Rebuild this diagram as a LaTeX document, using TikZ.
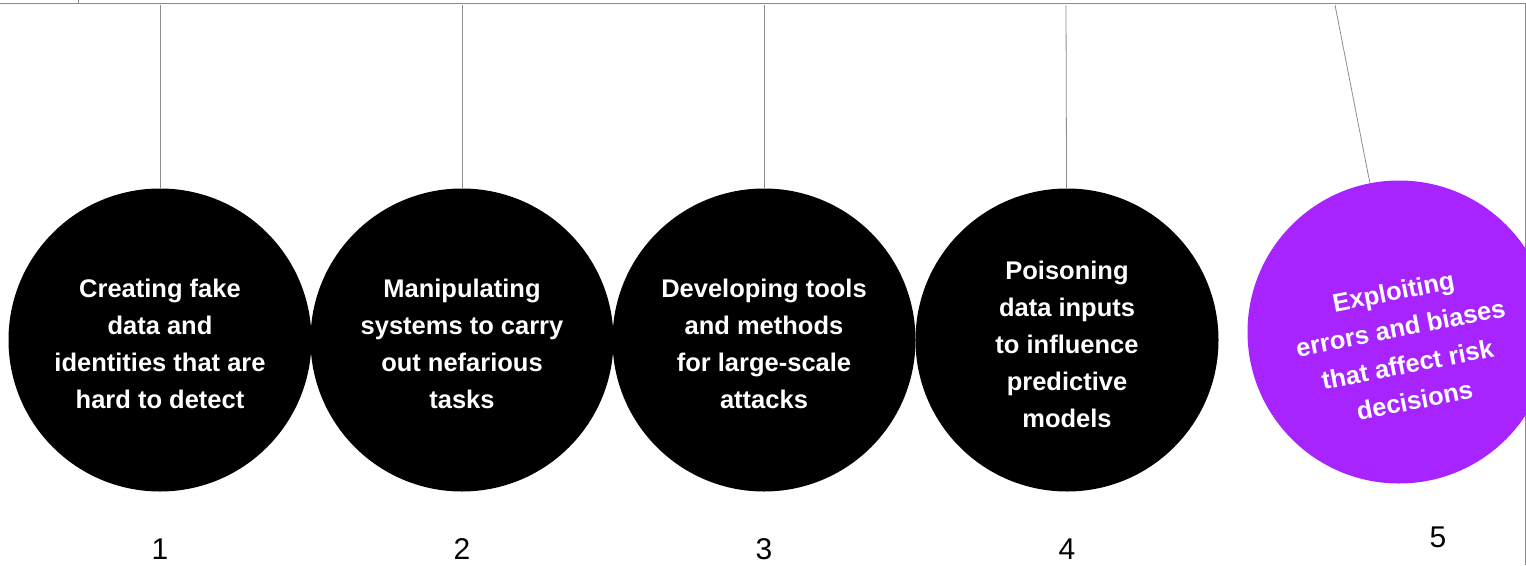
\documentclass[tikz,border=0pt]{standalone}
\usepackage{fontspec}
\setmainfont{Liberation Sans}
\usetikzlibrary{positioning, calc}
\definecolor{violetfill}{HTML}{A724FF}
\definecolor{wiregray}{HTML}{8C8C8C}

\begin{document}
\begin{tikzpicture}[
    x=1pt, y=-1pt,
    ball/.style={circle, fill=black, minimum size=303pt, inner sep=0pt},
    caption/.style={align=center, text=white, inner sep=0pt,
        font=\fontsize{25.5}{37}\selectfont\bfseries},
    wire/.style={draw=wiregray, line width=0.8pt},
    num/.style={font=\fontsize{30}{36}\selectfont, anchor=base}
]
    \clip (0,0) rectangle (1526,565);
    \useasboundingbox (0,0) rectangle (1526,565);
    % frame
    \draw[wire] (0,3) -- (1526,3);
    \draw[wire] (78,0) -- (78,3);
    \draw[wire] (1525,3) -- (1525,565);
    % balls
    \node[ball] (c1) at (160,340) {};
    \node[ball] (c2) at (462,340) {};
    \node[ball] (c3) at (764,340) {};
    \node[ball] (c4) at (1067,340) {};
    \node[ball, fill=violetfill] (c5) at (1399,332) {};
    \node[caption] (l1) at (160,344) {Creating fake\\data and\\identities that are\\hard to detect};
    \node[caption] (l2) at (462,344) {Manipulating\\systems to carry\\out nefarious\\tasks};
    \node[caption] (l3) at (764,344) {Developing tools\\and methods\\for large-scale\\attacks};
    \node[caption] (l4) at (1067,344) {Poisoning\\data inputs\\to influence\\predictive\\models};
    \node[caption, rotate=11] (l5) at (1404,346) {Exploiting\\errors and biases\\that affect risk\\decisions};
    % wires
    \coordinate (t1) at (160,5);
    \coordinate (t2) at (462,5);
    \coordinate (t3) at (764,5);
    \coordinate (t4) at (1066,5);
    \coordinate (t5) at (1335,5);
    \foreach \i in {1,...,5}
        \draw[wire] (t\i) -- (c\i);
    % numbers
    \node[num] (n1) at (160,559) {1};
    \node[num] (n2) at (462,559) {2};
    \node[num] (n3) at (764,559) {3};
    \node[num] (n4) at (1067,559) {4};
    \node[num] (n5) at (1438,547) {5};
\end{tikzpicture}
\end{document}
